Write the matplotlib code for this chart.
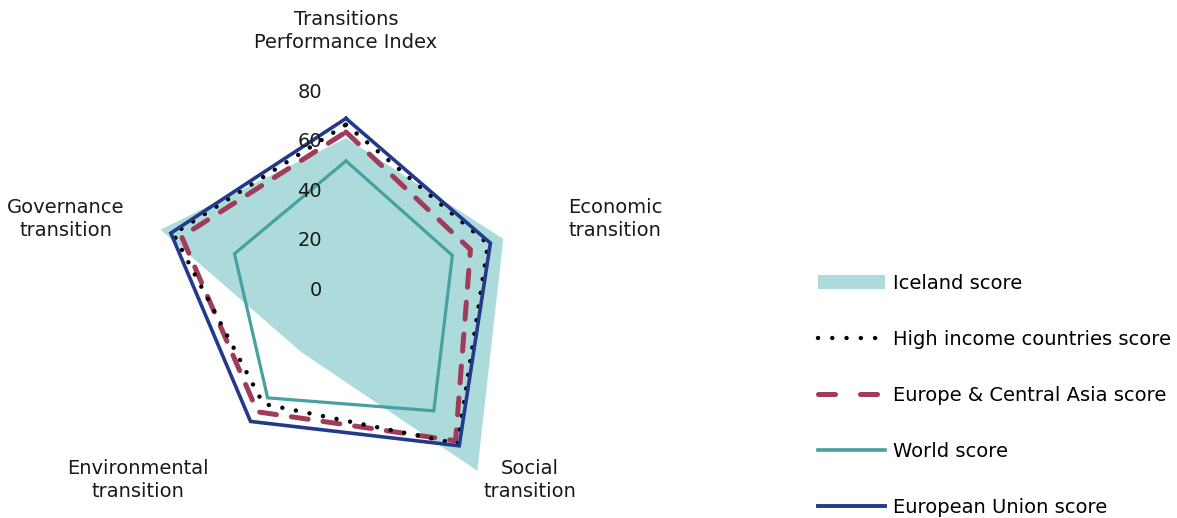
import numpy as np
import matplotlib
matplotlib.use("Agg")
import matplotlib.pyplot as plt
import matplotlib.transforms as mtransforms
from matplotlib.patches import Patch
from matplotlib.lines import Line2D

# ----------------------------------------------------------------------------
# data
# ----------------------------------------------------------------------------
categories = ["Transitions\nPerformance Index", "Economic\ntransition",
              "Social\ntransition", "Environmental\ntransition",
              "Governance\ntransition"]
iceland = [61.5, 67, 90.5, 31, 79]
high_income = [67, 60.5, 77, 57, 73.5]
europe_central_asia = [64, 53, 75.5, 61, 70]
world = [52.3, 45.3, 60.5, 54, 47.5]
european_union = [69.5, 61.5, 78, 65.8, 74.6]
r_ticks = [0, 20, 40, 60, 80]

W, H = 1177, 518
plt.rcParams['font.family'] = ['DejaVu Sans']
fs = 14

fig = plt.figure(figsize=(W / 100, H / 100), dpi=100)

# polar axes: centre at (346, 290) px, radius for 80 is ~197 px
cx, cy, R = 346, 290, 197.5
ax = fig.add_axes([(cx - R) / W, (H - cy - R) / H, 2 * R / W, 2 * R / H],
                  projection='polar')
ax.set_theta_offset(np.pi / 2)
ax.set_theta_direction(-1)
ax.set_ylim(0, 80)
ax.grid(False)
ax.spines['polar'].set_visible(False)
ax.set_xticks([])
ax.set_yticks([])
ax.patch.set_alpha(0)

angles = np.linspace(0, 2 * np.pi, len(categories), endpoint=False)


def closed(vals):
    return np.append(angles, angles[0]), np.append(vals, vals[0])


t, r = closed(iceland)
ax.fill(t, r, color='#addbdb', lw=0, zorder=1, clip_on=False)

t, r = closed(world)
ax.plot(t, r, color='#46a19f', lw=2.3, zorder=2, solid_joinstyle='miter')

t, r = closed(europe_central_asia)
ax.plot(t, r, color='#a03b5a', lw=3.6, zorder=3,
        linestyle=(0, (3.4, 3.0)), dash_capstyle='round')

t, r = closed(high_income)
ax.plot(t, r, color='black', lw=3.2, zorder=4,
        linestyle=(0, (0.01, 3.1)), dash_capstyle='round')

t, r = closed(european_union)
ax.plot(t, r, color='#233a8b', lw=2.6, zorder=5, solid_joinstyle='miter')

# radial tick labels, set a bit left of the vertical axis
off = mtransforms.ScaledTranslation(-24 / 100, 0, fig.dpi_scale_trans)
for v in r_ticks:
    ax.text(0, v, str(v), transform=ax.transData + off, ha='right',
            va='center', fontsize=fs, color='#1a1a1a', zorder=6)

# category labels (pixel positions from the reference)
label_pos = [(346, 31), (615, 219), (530, 480), (138, 480), (66, 219)]
for name, (x, y) in zip(categories, label_pos):
    fig.text(x / W, 1 - y / H, name, ha='center', va='center', fontsize=fs,
             color='#1a1a1a', linespacing=1.3)

# legend
handles = [
    Patch(facecolor='#addbdb', edgecolor='none'),
    Line2D([], [], color='black', lw=3.2, linestyle=(0, (0.01, 3.2)),
           dash_capstyle='round'),
    Line2D([], [], color='#a03b5a', lw=3.6, linestyle=(0, (3.4, 5.0)),
           dash_capstyle='round'),
    Line2D([], [], color='#46a19f', lw=2.6),
    Line2D([], [], color='#233a8b', lw=2.8),
]
labels = ["Iceland score", "High income countries score",
          "Europe & Central Asia score", "World score",
          "European Union score"]
fig.legend(handles, labels, loc='upper left',
           bbox_to_anchor=(818 / W, 1 - 274 / H), frameon=False,
           fontsize=fs, handlelength=3.45, handletextpad=0.42,
           labelspacing=1.9, borderaxespad=0, borderpad=0)

fig.savefig('out.png', dpi=100)
